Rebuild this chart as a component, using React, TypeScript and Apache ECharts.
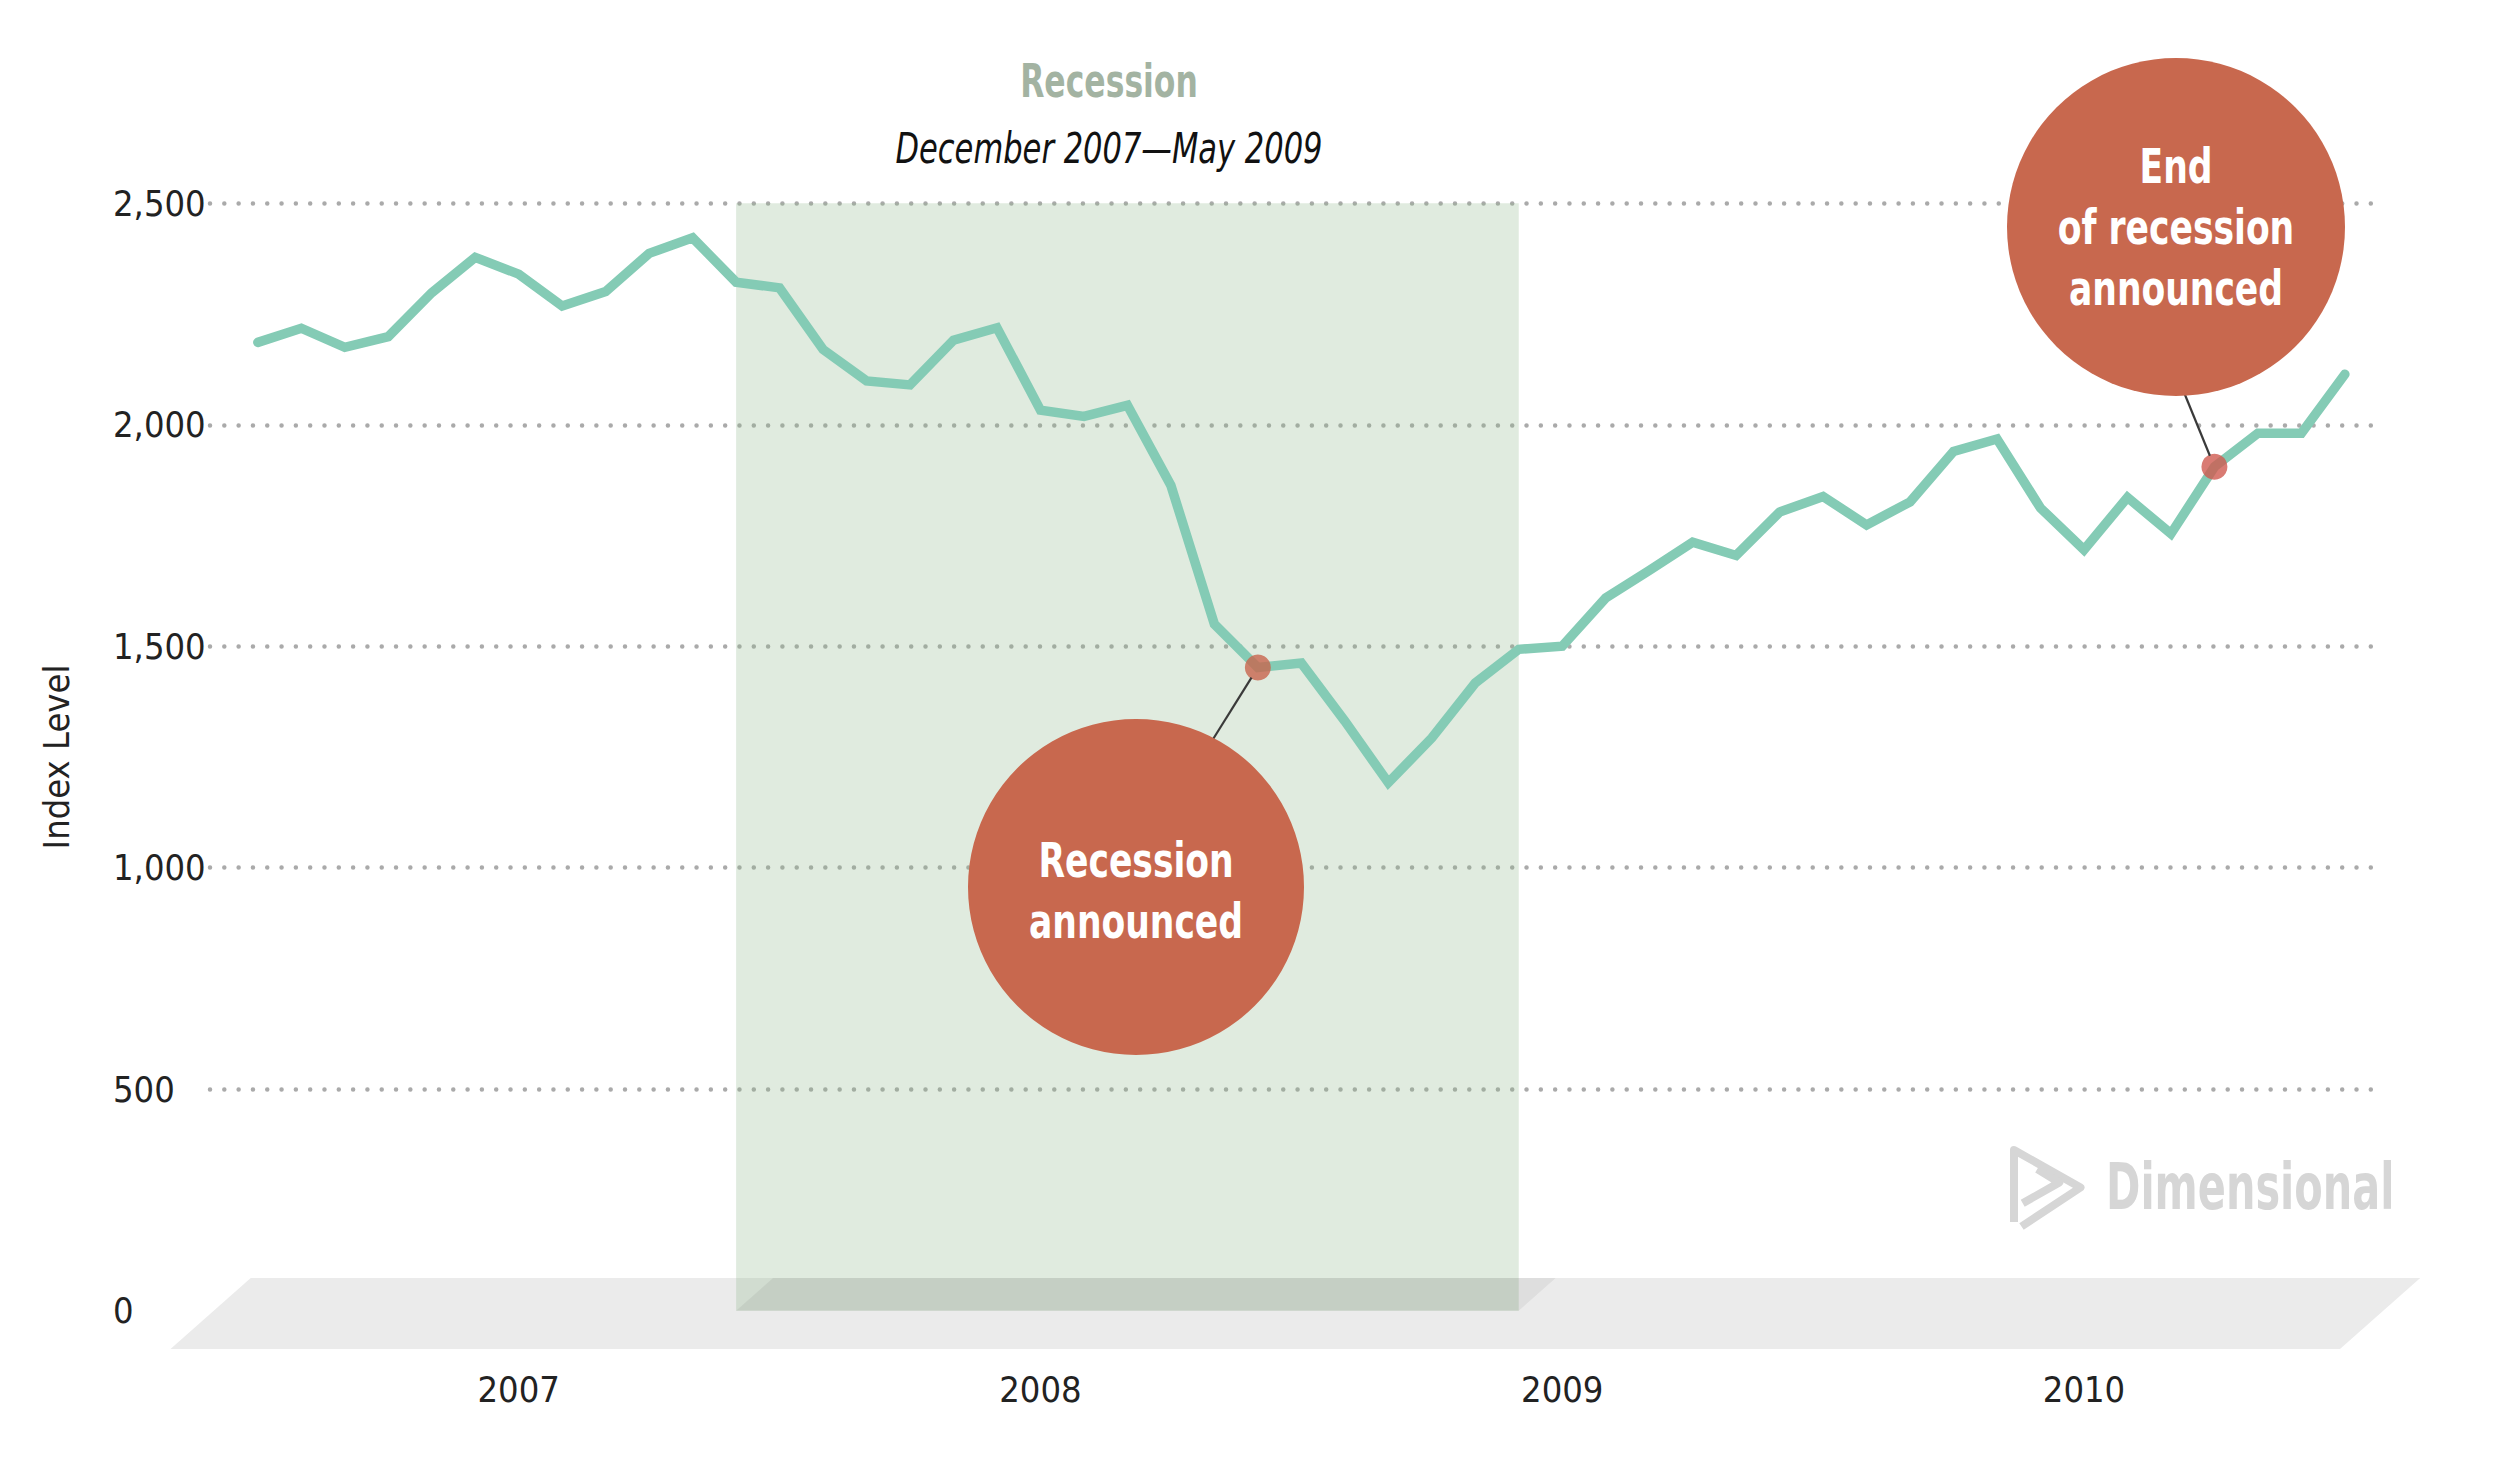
import React, { useEffect, useRef } from "react";
import * as echarts from "echarts";

// Monthly index level, month-end values from Dec 2006 (index 0) to Dec 2010 (index 48)
const indexLevels = [
  2186, 2218, 2175, 2199, 2298, 2378, 2340, 2268, 2301, 2387, 2422, 2322, 2309,
  2170, 2099, 2090, 2191, 2219, 2033, 2019, 2044, 1863, 1550, 1452, 1462, 1331,
  1192, 1293, 1417, 1493, 1500, 1609, 1671, 1735, 1705, 1803, 1838, 1774, 1826,
  1940, 1968, 1812, 1718, 1836, 1754, 1905, 1981, 1981, 2114,
];
const monthIndex = indexLevels.map((_, i) => i);

// Year labels sit at the middle of each calendar year
const yearLabels = ["2007", "2008", "2009", "2010"];
const yearCenters = [6, 18, 30, 42];

// Y axis ticks
const yMin = 0;
const yMax = 2500;
const yStep = 500;

// Recession period: start of Dec 2007 to end of May 2009
const recessionStart = 11;
const recessionEnd = 29;
const recessionTitle = "Recession";
const recessionSubtitle = "December 2007\u2014May 2009";

// NBER announcements
const announceMonths = [23, 45];
const announceTexts = ["Recession\nannounced", "End\nof recession\nannounced"];

const FONT =
  "'Liberation Sans Narrow', 'DejaVu Sans Condensed', 'Roboto Condensed', 'Open Sans', sans-serif";

const LINE_COLOR = "#84cbb5";
const BUBBLE_COLOR = "#c8684e";
const DOT_COLORS = ["#c8654d", "#d05a50"];
const TEXT_COLOR = "#222222";

// Bubble layout (pixels): center, radius, point where the leader meets the bubble
const bubbles = [
  { cx: 1136, cy: 887, r: 168, tx: 1136, ty: 891, edge: [1205, 752] },
  { cx: 2176, cy: 227, r: 169, tx: 2176, ty: 227, edge: [2181, 385] },
];

export default function App() {
  const ref = useRef<HTMLDivElement>(null);

  useEffect(() => {
    const chart = echarts.init(ref.current!, null, { renderer: "svg" });

    chart.setOption({
      animation: false,
      backgroundColor: "#ffffff",
      grid: { left: 210, right: 116, top: 203.3, bottom: 172.3, containLabel: false },
      xAxis: {
        type: "value",
        min: -1.1,
        max: 48.9,
        axisLine: { show: false },
        axisTick: { show: false },
        splitLine: { show: false },
        axisLabel: {
          customValues: yearCenters,
          formatter: (v: number) => yearLabels[yearCenters.indexOf(v)] ?? "",
          margin: 61,
          fontSize: 36,
          fontFamily: FONT,
          color: TEXT_COLOR,
        },
      },
      yAxis: {
        type: "value",
        min: yMin,
        max: yMax,
        interval: yStep,
        name: "Index Level",
        nameLocation: "middle",
        nameRotate: 90,
        nameGap: 136,
        nameTextStyle: { fontSize: 36, fontFamily: FONT, color: TEXT_COLOR },
        axisLine: { show: false },
        axisTick: { show: false },
        axisLabel: {
          align: "left",
          margin: 97,
          fontSize: 36,
          fontFamily: FONT,
          color: TEXT_COLOR,
          formatter: (v: number) => v.toLocaleString("en-US"),
        },
        splitLine: {
          show: true,
          showMinLine: false,
          lineStyle: { color: "#aaaaaa", width: 4.5, type: [0.01, 14.3], cap: "round" },
        },
      },
      series: [
        {
          type: "line",
          data: monthIndex.map((m) => [m, indexLevels[m]]),
          symbol: "none",
          lineStyle: { color: LINE_COLOR, width: 9.5, cap: "round", join: "miter" },
          z: 3,
          markArea: {
            silent: true,
            itemStyle: { color: "rgba(140,180,135,0.27)" },
            data: [[{ coord: [recessionStart, yMin] }, { coord: [recessionEnd, yMax] }]],
          },
        },
        {
          type: "scatter",
          symbolSize: 26,
          z: 6,
          data: announceMonths.map((m, i) => ({
            value: [m, indexLevels[m]],
            itemStyle: { color: DOT_COLORS[i] },
          })),
        },
      ],
    });

    const px = (x: number, y: number) =>
      chart.convertToPixel({ gridIndex: 0 }, [x, y]) as number[];

    const [bandX0, baseY] = px(recessionStart, yMin);
    const [bandX1] = px(recessionEnd, yMin);
    const floorTop = 1278;
    const floorBottom = 1349;
    const slant = (floorBottom - floorTop) * 1.13;

    const condensed = (extra: any) => ({ type: "text", z: 12, scaleX: 0.8, ...extra });

    const graphics: any[] = [
      // floor plane under the axis
      {
        type: "polygon",
        z: -1,
        shape: {
          points: [
            [170.5 + slant, floorTop],
            [2340 + slant, floorTop],
            [2340, floorBottom],
            [170.5, floorBottom],
          ],
        },
        style: { fill: "#ebebeb" },
      },
      // footprint of the recession band on the floor
      {
        type: "polygon",
        z: 4,
        shape: {
          points: [
            [bandX0 + (baseY - floorTop) * 1.13, floorTop],
            [bandX1 + (baseY - floorTop) * 1.13, floorTop],
            [bandX1, baseY],
            [bandX0, baseY],
          ],
        },
        style: { fill: "rgba(0,0,0,0.055)" },
      },
      condensed({
        x: 1109,
        y: 81,
        scaleX: 0.76,
        style: {
          text: recessionTitle,
          fill: "#a3b3a2",
          fontSize: 46,
          fontWeight: "bold",
          fontFamily: FONT,
          align: "center",
          verticalAlign: "middle",
        },
      }),
      condensed({
        x: 1109,
        y: 148,
        scaleX: 0.79,
        style: {
          text: recessionSubtitle,
          fill: "#111111",
          fontSize: 43,
          fontStyle: "italic",
          fontFamily: FONT,
          align: "center",
          verticalAlign: "middle",
        },
      }),
      // watermark
      {
        type: "text",
        z: 1,
        x: 2106,
        y: 1187,
        scaleX: 0.72,
        style: {
          text: "Dimensional",
          fill: "#d6d6d6",
          fontSize: 64,
          fontWeight: 600,
          fontFamily: FONT,
          align: "left",
          verticalAlign: "middle",
        },
      },
      {
        type: "polyline",
        z: 1,
        shape: {
          points: [
            [2014, 1222],
            [2014, 1150],
            [2080.5, 1187.5],
            [2021.5, 1226.5],
          ],
        },
        style: { stroke: "#d6d6d6", lineWidth: 8, fill: null, lineJoin: "round" },
      },
      {
        type: "polyline",
        z: 1,
        shape: {
          points: [
            [2037.3, 1169],
            [2059.3, 1182.5],
            [2022.7, 1203.3],
          ],
        },
        style: { stroke: "#d6d6d6", lineWidth: 8, fill: null, lineJoin: "round" },
      },
    ];

    announceMonths.forEach((m, i) => {
      const [dx, dy] = px(m, indexLevels[m]);
      const b = bubbles[i];
      const vx = b.edge[0] - dx;
      const vy = b.edge[1] - dy;
      const len = Math.hypot(vx, vy);
      graphics.push({
        type: "line",
        z: 10,
        shape: { x1: dx + (vx / len) * 12, y1: dy + (vy / len) * 12, x2: b.edge[0], y2: b.edge[1] },
        style: { stroke: "#3a3a3a", lineWidth: 2.2 },
      });
      graphics.push({
        type: "circle",
        z: 11,
        shape: { cx: b.cx, cy: b.cy, r: b.r },
        style: { fill: BUBBLE_COLOR },
      });
      graphics.push(
        condensed({
          x: b.tx,
          y: b.ty,
          style: {
            text: announceTexts[i],
            fill: "#ffffff",
            fontSize: 48,
            fontWeight: "bold",
            fontFamily: FONT,
            lineHeight: 61,
            align: "center",
            verticalAlign: "middle",
          },
        })
      );
    });

    chart.setOption({ graphic: graphics });

    return () => chart.dispose();
  }, []);

  return (
    <div
      ref={ref}
      style={{ position: "fixed", left: 0, top: 0, width: 2500, height: 1483, background: "#fff" }}
    />
  );
}
